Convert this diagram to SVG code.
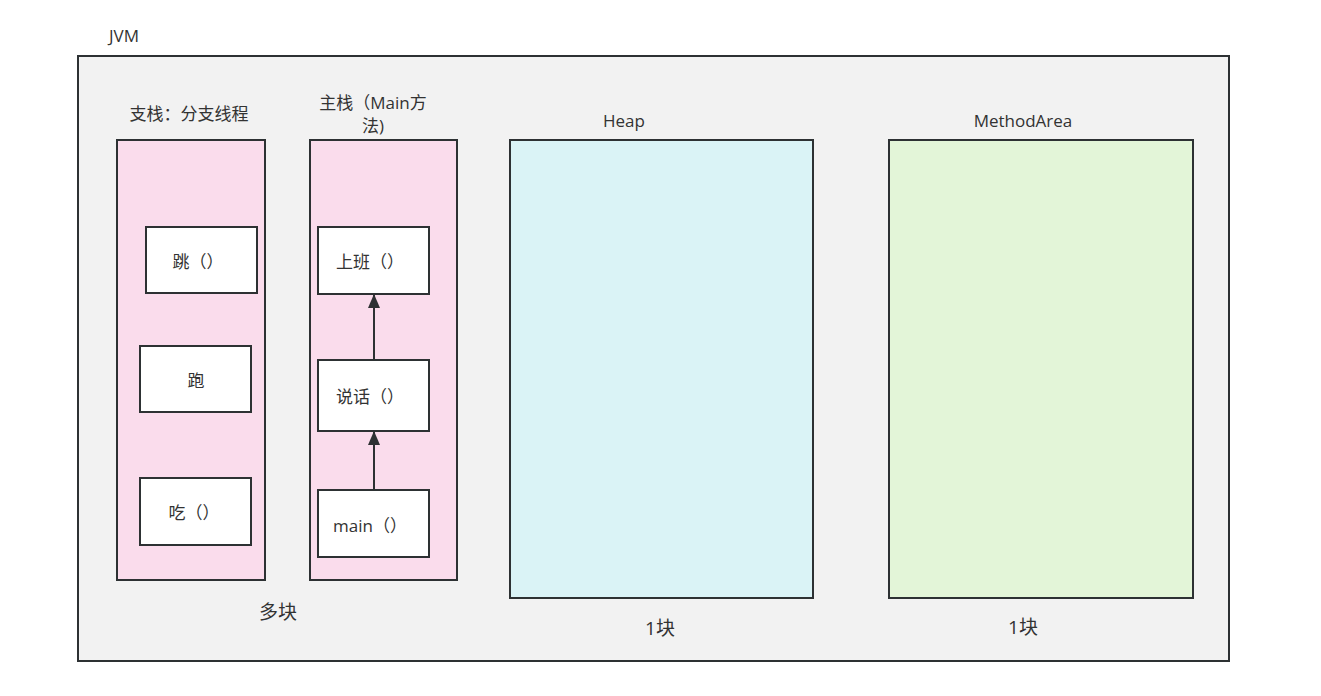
<svg xmlns="http://www.w3.org/2000/svg" width="1321" height="696" viewBox="0 0 1321 696">
<defs>
<style>
text{font-family:"Open Sans","Noto Sans CJK SC",sans-serif;font-size:17px;fill:#333;text-anchor:middle;dominant-baseline:central}
.big{font-size:19px}
.box{stroke:#2d3133;stroke-width:2}
.frame{fill:#ffffff;stroke:#2d3133;stroke-width:2}
.edge{stroke:#2d3133;stroke-width:2;fill:none;marker-end:url(#arr)}
</style>
<marker id="arr" viewBox="0 0 14 12" refX="13" refY="6" markerWidth="14" markerHeight="12" markerUnits="userSpaceOnUse" orient="auto">
<path d="M0,0 L14,6 L0,12 z" fill="#2d3133"/>
</marker>
</defs>
<rect width="1321" height="696" fill="#ffffff"/>
<g id="jvm">
<rect class="box" x="78" y="56" width="1151" height="605" fill="#f2f2f2"/>
<text x="124" y="35" font-size="18">JVM</text>
</g>
<g id="branch-stack">
<rect class="box" x="117" y="140" width="148" height="440" fill="#fadcec"/>
<text x="189" y="113">支栈：分支线程</text>
<text class="big" x="278" y="612">多块</text>
</g>
<g id="main-stack">
<rect class="box" x="310" y="140" width="147" height="440" fill="#fadcec"/>
<text x="373" y="102">主栈（Main方</text>
<text x="373" y="125">法)</text>
</g>
<g id="heap">
<rect class="box" x="510" y="140" width="303" height="458" fill="#daf3f6"/>
<text x="624" y="120">Heap</text>
<text class="big" x="660" y="628">1块</text>
</g>
<g id="method-area">
<rect class="box" x="889" y="140" width="304" height="458" fill="#e3f5d8"/>
<text x="1023" y="120">MethodArea</text>
<text class="big" x="1023" y="627">1块</text>
</g>
<g id="jump">
<rect class="frame" x="146" y="227" width="111" height="66"/>
<text x="198" y="261">跳（）</text>
</g>
<g id="run">
<rect class="frame" x="140" y="346" width="111" height="66"/>
<text x="196" y="380">跑</text>
</g>
<g id="eat">
<rect class="frame" x="140" y="478" width="111" height="67"/>
<text x="194" y="512">吃（）</text>
</g>
<g id="work">
<rect class="frame" x="318" y="227" width="111" height="67"/>
<text x="370" y="261">上班（）</text>
</g>
<g id="talk">
<rect class="frame" x="318" y="360" width="111" height="71"/>
<text x="370" y="396">说话（）</text>
</g>
<g id="main">
<rect class="frame" x="318" y="490" width="111" height="67"/>
<text x="370" y="525">main（）</text>
</g>
<g id="connectors">
<path class="edge" d="M374,490 L374,432"/>
<path class="edge" d="M374,360 L374,295"/>
</g>
</svg>
